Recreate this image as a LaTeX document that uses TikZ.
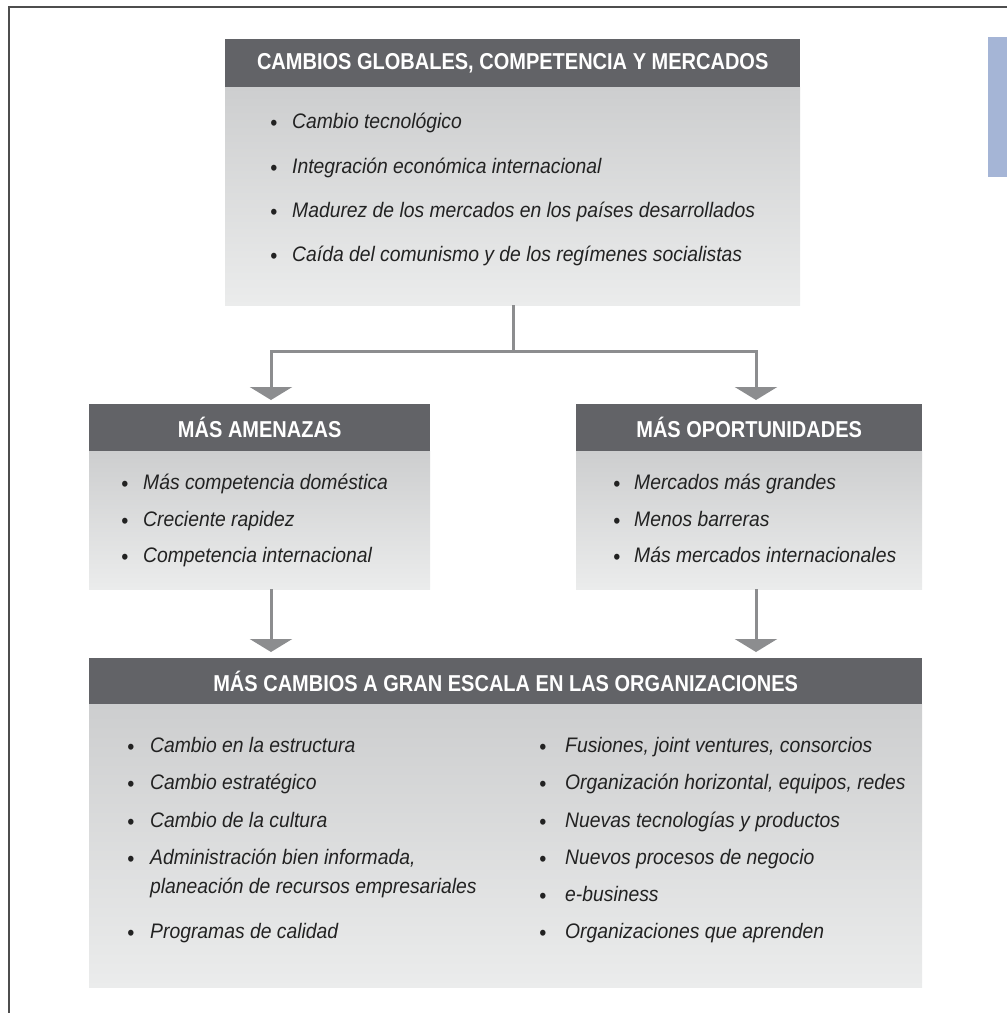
\documentclass[tikz,border=0pt]{standalone}
\usepackage{fontspec}
\usetikzlibrary{arrows.meta}
\newfontfamily\hdfont{Liberation Sans}[FakeStretch=0.87]
\newfontfamily\itfont{Liberation Sans}[FakeStretch=0.92]
\definecolor{hdgray}{HTML}{626367}
\definecolor{bodytop}{HTML}{CDCECF}
\definecolor{bodybot}{HTML}{EBECEC}
\definecolor{flowgray}{HTML}{8C8D8F}
\definecolor{tabblue}{HTML}{A5B5D6}
\definecolor{framegray}{HTML}{4E4E4E}
\definecolor{txt}{HTML}{222222}
\tikzset{
  hdr/.style={fill=hdgray, text=white, inner sep=0pt, anchor=north west,
    font=\hdfont\bfseries\fontsize{23}{26}\selectfont},
  bodybox/.style={top color=bodytop, bottom color=bodybot, draw=none,
    inner sep=0pt, anchor=north west},
  itm/.style={anchor=base west, inner sep=0pt, text=txt,
    font=\itfont\itshape\fontsize{21}{24}\selectfont},
  bul/.style={anchor=base, inner sep=0pt, text=txt, yshift=-2.5pt,
    font=\itfont\fontsize{22}{24}\selectfont},
  conn/.style={draw=flowgray, line width=3pt},
  flow/.style={conn, -{Triangle[width=42pt,length=13pt]}},
}
\begin{document}
\begin{tikzpicture}[x=1pt,y=-1pt]
\useasboundingbox (0,0) rectangle (1007,1013);

% page frame and side tab
\draw[framegray, line width=2pt] (9,1013) -- (9,7) -- (1007,7);
\fill[tabblue] (988,37) rectangle (1007,177);

% top block
\node[hdr, minimum width=575pt, minimum height=48pt] (top-h) at (225,39)
  {CAMBIOS GLOBALES, COMPETENCIA Y MERCADOS};
\node[bodybox, minimum width=575pt, minimum height=218pt] (top-b) at (225,87) {};
\node[bul] (tb1) at (274,128) {•};
\node[itm] (t1) at (292,128) {Cambio tecnológico};
\node[bul] (tb2) at (274,173) {•};
\node[itm] (t2) at (292,173) {Integración económica internacional};
\node[bul] (tb3) at (274,217) {•};
\node[itm] (t3) at (292,217) {Madurez de los mercados en los países desarrollados};
\node[bul] (tb4) at (274,261) {•};
\node[itm] (t4) at (292,261) {Caída del comunismo y de los regímenes socialistas};

% threats block
\node[hdr, minimum width=341pt, minimum height=47pt] (amen-h) at (89,404)
  {MÁS AMENAZAS};
\node[bodybox, minimum width=341pt, minimum height=138pt] (amen-b) at (89,451) {};
\node[bul] (ab1) at (125,489) {•};
\node[itm] (a1) at (143,489) {Más competencia doméstica};
\node[bul] (ab2) at (125,526) {•};
\node[itm] (a2) at (143,526) {Creciente rapidez};
\node[bul] (ab3) at (125,562) {•};
\node[itm] (a3) at (143,562) {Competencia internacional};

% opportunities block
\node[hdr, minimum width=346pt, minimum height=47pt] (opp-h) at (576,404)
  {MÁS OPORTUNIDADES};
\node[bodybox, minimum width=346pt, minimum height=138pt] (opp-b) at (576,451) {};
\node[bul] (ob1) at (617,489) {•};
\node[itm] (o1) at (634,489) {Mercados más grandes};
\node[bul] (ob2) at (617,526) {•};
\node[itm] (o2) at (634,526) {Menos barreras};
\node[bul] (ob3) at (617,562) {•};
\node[itm] (o3) at (634,562) {Más mercados internacionales};

% large-scale change block
\node[hdr, minimum width=833pt, minimum height=46pt] (big-h) at (89,658)
  {MÁS CAMBIOS A GRAN ESCALA EN LAS ORGANIZACIONES};
\node[bodybox, minimum width=833pt, minimum height=283pt] (big-b) at (89,704) {};
\node[bul] (lb1) at (131,752) {•};
\node[itm] (l1) at (150,752) {Cambio en la estructura};
\node[bul] (lb2) at (131,789) {•};
\node[itm] (l2) at (150,789) {Cambio estratégico};
\node[bul] (lb3) at (131,827) {•};
\node[itm] (l3) at (150,827) {Cambio de la cultura};
\node[bul] (lb4) at (131,864) {•};
\node[itm] (l4a) at (150,864) {Administración bien informada,};
\node[itm] (l4b) at (150,893) {planeación de recursos empresariales};
\node[bul] (lb5) at (131,938) {•};
\node[itm] (l5) at (150,938) {Programas de calidad};

\node[bul] (rb1) at (543,752) {•};
\node[itm] (r1) at (565,752) {Fusiones, joint ventures, consorcios};
\node[bul] (rb2) at (543,789) {•};
\node[itm] (r2) at (565,789) {Organización horizontal, equipos, redes};
\node[bul] (rb3) at (543,827) {•};
\node[itm] (r3) at (565,827) {Nuevas tecnologías y productos};
\node[bul] (rb4) at (543,864) {•};
\node[itm] (r4) at (565,864) {Nuevos procesos de negocio};
\node[bul] (rb5) at (543,901) {•};
\node[itm] (r5) at (565,901) {e-business};
\node[bul] (rb6) at (543,938) {•};
\node[itm] (r6) at (565,938) {Organizaciones que aprenden};

% connectors
\coordinate (split) at (513,351);
\coordinate (jl) at (271,351);
\coordinate (jr) at (756,351);
\draw[conn] (top-b.south -| split) -- (split);
\draw[flow, shorten >=4pt] (split) -| (amen-h.north -| jl);
\draw[flow, shorten >=4pt] (split) -| (opp-h.north -| jr);
\draw[flow, shorten >=6pt] (amen-b.south -| jl) -- (big-h.north -| jl);
\draw[flow, shorten >=6pt] (opp-b.south -| jr) -- (big-h.north -| jr);
\end{tikzpicture}
\end{document}
